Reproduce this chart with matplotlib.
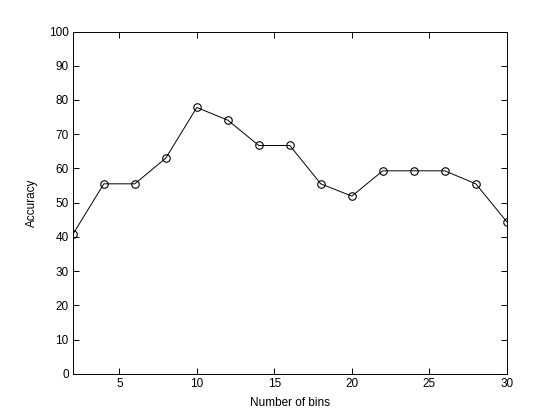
import matplotlib
matplotlib.use("Agg")
import matplotlib.pyplot as plt

bins = [2, 4, 6, 8, 10, 12, 14, 16, 18, 20, 22, 24, 26, 28, 30]
accuracy = [40.7, 55.5, 55.5, 63.0, 77.8, 74.1, 66.7, 66.7, 55.5, 51.9, 59.3, 59.3, 59.3, 55.5, 44.4]
xticks = [5, 10, 15, 20, 25, 30]
yticks = [0, 10, 20, 30, 40, 50, 60, 70, 80, 90, 100]

plt.rcParams['font.family'] = ['Liberation Sans', 'DejaVu Sans']
plt.rcParams['font.size'] = 8.5

fig = plt.figure(figsize=(5.6, 4.2), dpi=100)
ax = fig.add_axes([0.13, 0.11, 0.775, 0.815])
ax.plot(bins, accuracy, '-o', color='black', linewidth=0.7, markersize=5.4,
        markerfacecolor='none', markeredgewidth=0.8)
ax.set_xlim(2, 30)
ax.set_ylim(0, 100)
ax.set_xticks(xticks)
ax.set_yticks(yticks)
ax.tick_params(direction='in', top=True, right=True, length=4, width=0.7, labelsize=8.5, pad=3)
for s in ax.spines.values():
    s.set_linewidth(0.7)
ax.set_xlabel('Number of bins', fontsize=8.5, labelpad=5)
ax.set_ylabel('Accuracy', fontsize=8.5, labelpad=8)
fig.savefig('out.png', dpi=100)
